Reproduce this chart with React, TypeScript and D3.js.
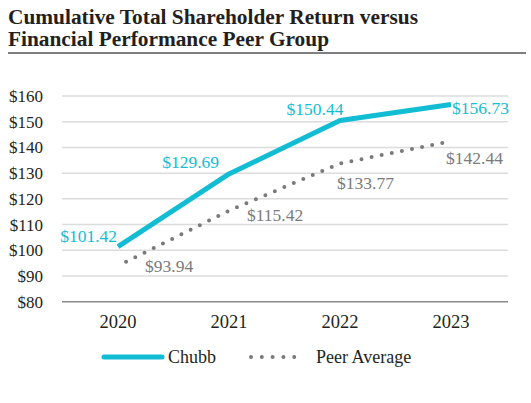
import React from "react";
import * as d3 from "d3";

const years = ["2020", "2021", "2022", "2023"];
const chubb = [101.42, 129.69, 150.44, 156.73];
const peer = [93.94, 115.42, 133.77, 142.44];
const yTicks = [80, 90, 100, 110, 120, 130, 140, 150, 160];
const titleLines = ["Cumulative Total Shareholder Return versus", "Financial Performance Peer Group"];

const CYAN = "#12bdd4";
const GRAY = "#7a7a7a";
const TEXT = "#231f20";
const SERIF = "'Liberation Serif', 'DejaVu Serif', serif";

// label offsets [dx, dy, anchor]
const chubbLabelPos: [number, number, string][] = [
  [-1, -5, "end"],
  [-10, -6, "end"],
  [-25, -6, "middle"],
  [1, 9.6, "start"],
];
const peerLabelPos: [number, number, string][] = [
  [27, 6, "start"],
  [18, 10.5, "start"],
  [-3, 26, "start"],
  [-5, 22.4, "start"],
];

export default function App() {
  const W = 531, H = 403;
  const x = d3.scalePoint<string>().domain(years).range([118, 451]);
  const y = d3.scaleLinear().domain([80, 160]).range([301.7, 96]);
  const line = d3
    .line<number>()
    .x((_, i) => x(years[i]) as number)
    .y((d) => y(d));
  const fmt = (v: number) => "$" + v.toFixed(2);

  return (
    <svg
      width={W}
      height={H}
      style={{ position: "absolute", left: 0, top: 0, background: "#fff" }}
      fontFamily={SERIF}
    >
      <text x={8} y={23.5} fontSize={20} fontWeight="bold" fill={TEXT} textLength={410} lengthAdjust="spacingAndGlyphs">
        {titleLines[0]}
      </text>
      <text x={8} y={46} fontSize={20} fontWeight="bold" fill={TEXT} textLength={321} lengthAdjust="spacingAndGlyphs">
        {titleLines[1]}
      </text>
      <line x1={8} x2={526} y1={53} y2={53} stroke="#555" strokeWidth={1.5} />

      {yTicks.map((t) => (
        <g key={t}>
          <line
            x1={62}
            x2={508}
            y1={y(t)}
            y2={y(t)}
            stroke={t === 80 ? "#8a8a8a" : "#dcdcdc"}
            strokeWidth={1.5}
          />
          <text x={43} y={y(t) + 6} textAnchor="end" fontSize={17} fill={TEXT}>
            {"$" + t}
          </text>
        </g>
      ))}

      {years.map((yr) => (
        <text key={yr} x={x(yr)} y={328} textAnchor="middle" fontSize={18.5} fill={TEXT}>
          {yr}
        </text>
      ))}

      <path
        d={line(peer) || ""}
        fill="none"
        stroke={GRAY}
        strokeWidth={4}
        strokeLinecap="round"
        strokeDasharray="0 10.3"
        strokeDashoffset={1.3}
      />
      <path d={line(chubb) || ""} fill="none" stroke={CYAN} strokeWidth={5} strokeLinejoin="round" />

      {chubb.map((v, i) => (
        <text
          key={"c" + i}
          x={(x(years[i]) as number) + chubbLabelPos[i][0]}
          y={y(v) + chubbLabelPos[i][1]}
          textAnchor={chubbLabelPos[i][2] as any}
          fontSize={17.5}
          fill={CYAN}
        >
          {fmt(v)}
        </text>
      ))}
      {peer.map((v, i) => (
        <text
          key={"p" + i}
          x={(x(years[i]) as number) + peerLabelPos[i][0]}
          y={y(v) + peerLabelPos[i][1]}
          textAnchor={peerLabelPos[i][2] as any}
          fontSize={17.5}
          fill={GRAY}
        >
          {fmt(v)}
        </text>
      ))}

      <line x1={104} x2={162} y1={357} y2={357} stroke={CYAN} strokeWidth={5} strokeLinecap="round" />
      <text x={168} y={363} fontSize={18} fill={TEXT}>Chubb</text>
      <line
        x1={251}
        x2={305}
        y1={357}
        y2={357}
        stroke={GRAY}
        strokeWidth={4}
        strokeLinecap="round"
        strokeDasharray="0 10.8"
      />
      <text x={316} y={363} fontSize={18} fill={TEXT}>Peer Average</text>
    </svg>
  );
}
